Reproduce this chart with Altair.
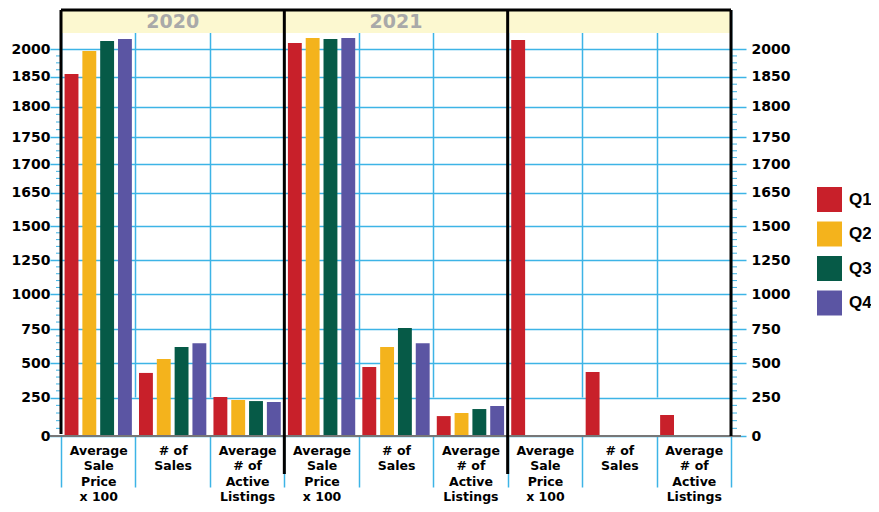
import altair as alt
import pandas as pd

# ---------------- data ----------------
panels = ["2020", "2021", "2022"]
panel_titles = ["2020", "2021", ""]
metric_labels = ["Average/Sale/Price/x 100", "# of/Sales", "Average/# of/Active/Listings"]
quarters = ["Q1", "Q2", "Q3", "Q4"]

price_2020 = [1865, 1989, 2043, 2054]
sales_2020 = [430, 531, 618, 647]
listings_2020 = [255, 235, 228, 222]

price_2021 = [2032, 2060, 2054, 2060]
sales_2021 = [473, 618, 757, 647]
listings_2021 = [130, 150, 176, 196]

price_2022 = [2049]
sales_2022 = [437]
listings_2022 = [137]

y_ticks = [0, 250, 500, 750, 1000, 1250, 1500, 1650, 1700, 1750, 1800, 1850, 2000]

# ---------------- style ----------------
COLORS = ["#C8202A", "#F4B31C", "#065A47", "#5B55A3"]
W, H = 670, 426
Y_RANGE = [426, 387.7, 353.3, 319, 284.3, 250, 216, 182.5, 154.3, 127.3, 96.7, 66.7, 39]
BLUE = "#3DB4E6"
FONT = "DejaVu Sans"
HEADER_FILL = "#FCF8D0"

series = {
    "2020": [price_2020, sales_2020, listings_2020],
    "2021": [price_2021, sales_2021, listings_2021],
    "2022": [price_2022, sales_2022, listings_2022],
}
keys = [f"{p}|{m}" for p in panels for m in metric_labels]
rows = []
for p in panels:
    for mi, m in enumerate(metric_labels):
        for qi, v in enumerate(series[p][mi]):
            rows.append({"key": f"{p}|{m}", "quarter": quarters[qi], "value": v})
df = pd.DataFrame(rows)

# minor ticks between the labelled ticks
minor = []
for a, b in zip(y_ticks[:-1], y_ticks[1:]):
    n = 5 if b <= 1500 else 4
    for k in range(1, n):
        minor.append(a + (b - a) * k / n)
df_minor = pd.DataFrame({"v": minor})

yscale = alt.Scale(domain=y_ticks, range=Y_RANGE, nice=False, zero=False)
xscale = alt.Scale(domain=keys, paddingInner=0, paddingOuter=0)
xaxis = alt.Axis(
    labelExpr="indexof(datum.label, '|') >= 0 ? split(split(datum.label, '|')[1], '/') : ''",
    labelAngle=0, tickBand="extent", grid=True, gridColor=BLUE, gridWidth=1.5,
    ticks=True, tickColor=BLUE, tickSize=51, tickWidth=1.5, domain=False,
    labelFontSize=12.5, labelLineHeight=15.5, labelPadding=-43, labelBaseline="top",
)


def xenc(**kw):
    return alt.X("key:N", scale=xscale, axis=xaxis, title=None, sort=keys, **kw)


bars = alt.Chart(df).mark_bar().encode(
    x=xenc(),
    xOffset=alt.XOffset("quarter:N", scale=alt.Scale(domain=quarters, paddingInner=0.22, paddingOuter=0.2)),
    y=alt.Y("value:Q", scale=yscale, title=None,
            axis=alt.Axis(orient="left", values=y_ticks, format="d", grid=True, gridColor=BLUE,
                          gridWidth=1.5, tickColor=BLUE, tickSize=11, tickWidth=1.5, domain=False,
                          labelFontSize=14, labelPadding=0)),
    color=alt.Color("quarter:N", scale=alt.Scale(domain=quarters, range=COLORS),
                    legend=alt.Legend(title=None, orient="none", legendX=756, legendY=177,
                                      symbolType="square", symbolSize=625, symbolStrokeWidth=0,
                                      symbolOpacity=1, labelFont="Liberation Sans",
                                      labelFontWeight="bold", labelFontSize=17, labelColor="black",
                                      labelOffset=7, rowPadding=9.5, padding=0)),
)

one = pd.DataFrame({"a": [0]})

header = alt.Chart(one).mark_rect(color=HEADER_FILL).encode(
    x=alt.value(0), x2=alt.value(W), y=alt.value(0), y2=alt.value(23)
)

df_head = pd.DataFrame({"key": [f"{p}|{metric_labels[1]}" for p in panels], "title": panel_titles})
header_text = alt.Chart(df_head).mark_text(
    font=FONT, fontWeight="bold", fontSize=19, color="#A9A9A9", baseline="middle"
).encode(x=xenc(), y=alt.value(12), text="title:N")

minor_left = alt.Chart(df_minor).mark_rule(color=BLUE, strokeWidth=1).encode(
    y=alt.Y("v:Q", scale=yscale, axis=None), x=alt.value(-5), x2=alt.value(0)
)
minor_right = alt.Chart(df_minor).mark_rule(color=BLUE, strokeWidth=1).encode(
    y=alt.Y("v:Q", scale=yscale, title=None,
            axis=alt.Axis(orient="right", values=y_ticks, format="d", grid=False, tickColor=BLUE,
                          tickSize=15, tickWidth=1.5, domain=False, labelFontSize=14,
                          labelPadding=5)),
    x=alt.value(W), x2=alt.value(W + 6),
)

baseline = alt.Chart(one).mark_rule(color="#777777", strokeWidth=2).encode(
    x=alt.value(-11), x2=alt.value(W + 10), y=alt.value(H)
)

df_inner = pd.DataFrame({"key": [keys[3], keys[6]]})
inner_borders = alt.Chart(df_inner).mark_rule(color="black", strokeWidth=3).encode(
    x=xenc(bandPosition=0), y=alt.value(0), y2=alt.value(H + 38)
)
left_border = alt.Chart(one).mark_rule(color="black", strokeWidth=3).encode(
    x=alt.value(0), y=alt.value(0), y2=alt.value(H - 2)
)
right_border = alt.Chart(one).mark_rule(color="black", strokeWidth=3).encode(
    x=alt.value(W), y=alt.value(0), y2=alt.value(H)
)
top_border = alt.Chart(one).mark_rule(color="black", strokeWidth=3).encode(
    x=alt.value(0), x2=alt.value(W), y=alt.value(0)
)

chart = alt.layer(
    bars, header, header_text, minor_left, minor_right, baseline,
    inner_borders, left_border, right_border, top_border
).resolve_axis(y="independent").properties(
    width=W, height=H,
    autosize=alt.AutoSizeParams(type="none"),
    padding={"left": 53, "top": 2, "right": 140, "bottom": 68},
).configure_view(strokeWidth=0).configure_axis(
    labelFont=FONT, labelFontWeight="bold", labelColor="black"
)

chart.save("out.html", embed_options={"renderer": "svg", "actions": False})
